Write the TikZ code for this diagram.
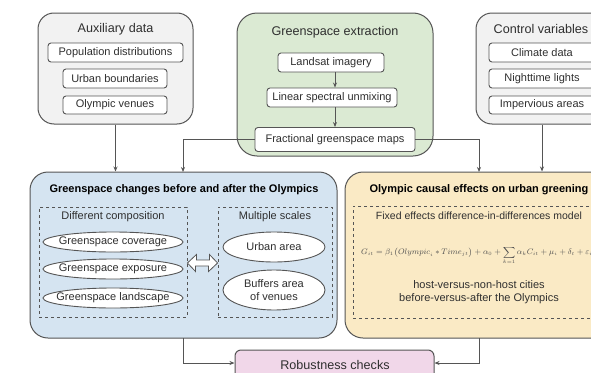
\documentclass[tikz,border=0pt]{standalone}
\usepackage{fontspec}
\setmainfont{Liberation Sans}
\usepackage{amsmath}
\usetikzlibrary{shapes.geometric,arrows.meta}
\definecolor{bordc}{HTML}{555555}
\definecolor{txtc}{HTML}{2F2F2F}
\definecolor{grayf}{HTML}{F2F2F2}
\definecolor{greenf}{HTML}{DBEAD3}
\definecolor{bluef}{HTML}{D5E4F1}
\definecolor{yellowf}{HTML}{FAEAC5}
\definecolor{pinkf}{HTML}{F1D7E9}
\tikzset{
  outer/.style={draw=bordc, line width=1pt, rounded corners=16pt, inner sep=0pt},
  inbox/.style={draw=bordc, line width=0.9pt, rounded corners=3pt, fill=white, inner sep=0pt, text=txtc, font=\fontsize{11}{13}\selectfont},
  ttl/.style={text=txtc, font=\fontsize{12.6}{14}\selectfont, inner sep=0pt},
  btitle/.style={text=black, font=\bfseries\fontsize{11}{13}\selectfont, inner sep=0pt},
  dbox/.style={draw=bordc, dashed, line width=0.9pt, inner sep=0pt},
  ell/.style={ellipse, draw=bordc, line width=0.9pt, fill=white, inner sep=0pt},
  elltxt/.style={text=txtc, font=\fontsize{11}{13}\selectfont, align=center, inner sep=0pt},
  plain/.style={text=txtc, font=\fontsize{11}{13}\selectfont, inner sep=0pt, align=center},
  conn/.style={draw=bordc, line width=0.9pt, -{Stealth[length=5pt,width=4pt]}},
  line/.style={draw=bordc, line width=0.9pt}
}
\begin{document}
\begin{tikzpicture}[x=1pt,y=-1pt]
\useasboundingbox (0,0) rectangle (591,372);
\clip (0,0) rectangle (591,372);
\fill[white] (0,0) rectangle (591,372);

% Auxiliary data
\node[outer, fill=grayf, minimum width=155pt, minimum height=111pt] (aux) at (115.5,68.5) {};
\node[ttl] (auxt) at (115.5,29) {Auxiliary data};
\node[inbox, minimum width=135pt, minimum height=19pt] (pop) at (115.5,52.5) {Population distributions};
\node[inbox, minimum width=104pt, minimum height=19pt] (urb) at (115,78.5) {Urban boundaries};
\node[inbox, minimum width=104pt, minimum height=18pt] (ven) at (115,105) {Olympic venues};

% Greenspace extraction
\node[outer, fill=greenf, rounded corners=20pt, minimum width=196pt, minimum height=143pt] (grn) at (335,84.5) {};
\node[ttl] (grnt) at (335,32) {Greenspace extraction};
\node[inbox, minimum width=106pt, minimum height=19pt] (land) at (331,62.5) {Landsat imagery};
\node[inbox, minimum width=130pt, minimum height=19pt] (lin) at (332,97.5) {Linear spectral unmixing};
\node[inbox, minimum width=160pt, minimum height=24pt] (frac) at (335,139.5) {Fractional greenspace maps};
\draw[conn] (land.south -| 335,0) -- (lin.north -| 335,0);
\draw[conn] (lin.south -| 335,0) -- (frac.north -| 335,0);

% Control variables
\node[outer, fill=grayf, minimum width=132pt, minimum height=111pt] (ctl) at (542,68.5) {};
\node[ttl] (ctlt) at (541,29) {Control variables};
\node[inbox, minimum width=106pt, minimum height=19pt] (clim) at (542,52.5) {Climate data};
\node[inbox, minimum width=106pt, minimum height=19pt] (night) at (542,78.5) {Nighttime lights};
\node[inbox, minimum width=106pt, minimum height=18pt] (imp) at (542,105) {Impervious areas};

% Blue box
\node[outer, fill=bluef, rounded corners=18pt, minimum width=307pt, minimum height=166pt] (blue) at (183.5,255) {};
\node[btitle] (bluet) at (184,190) {Greenspace changes before and after the Olympics};
\node[dbox, minimum width=148pt, minimum height=110pt] (comp) at (113,262) {};
\node[plain] (compt) at (113,217) {Different composition};
\node[ell, minimum width=140pt, minimum height=20pt] (cov) at (113,242) {};
\node[elltxt] (covt) at (cov.center) {Greenspace coverage};
\node[ell, minimum width=140pt, minimum height=20pt] (exp) at (113,269) {};
\node[elltxt] (expt) at (exp.center) {Greenspace exposure};
\node[ell, minimum width=140pt, minimum height=20pt] (lsc) at (113,298) {};
\node[elltxt] (lsct) at (lsc.center) {Greenspace landscape};
\node[dbox, minimum width=114pt, minimum height=110pt] (scal) at (275,262) {};
\node[plain] (scalt) at (275,217) {Multiple scales};
\node[ell, minimum width=102pt, minimum height=30pt] (uarea) at (274,247) {};
\node[elltxt] (uareat) at (uarea.center) {Urban area};
\node[ell, minimum width=102pt, minimum height=40pt] (buf) at (274,290) {};
\node[elltxt] (buft) at (buf.center) {Buffers area\\of venues};
% hollow double arrow between the two dashed boxes
\draw[draw=bordc, line width=0.8pt, fill=white, line join=miter]
  (comp.east |- 0,263) -- ++(9,-8.5) -- ++(0,5.5) -- ++(13,0) -- ++(0,-5.5) -- (scal.west |- 0,263)
  -- ++(-9,8.5) -- ++(0,-5.5) -- ++(-13,0) -- ++(0,5.5) -- cycle;

% Yellow box
\node[outer, fill=yellowf, rounded corners=18pt, minimum width=268pt, minimum height=166pt] (yel) at (479,255) {};
\node[btitle] (yelt) at (479,190) {Olympic causal effects on urban greening};
\node[dbox, minimum width=254pt, minimum height=112pt] (fe) at (480,262) {};
\node[plain, font=\fontsize{10.5}{12}\selectfont] (fet) at (479,216) {Fixed effects difference-in-differences model};
\node[anchor=base west, inner sep=0pt, text=txtc!85, font=\fontsize{7.8}{9}\selectfont] (eq) at (361,254.5)
  {$G_{it}=\beta_1\big(\mathnormal{Olympic}_i\ast\mathnormal{Time}_{jt}\big)+\alpha_0+\displaystyle\sum_{k=1}\alpha_k C_{it}+\mu_i+\delta_t+\varepsilon_{it}$};
\node[plain] (host) at (479,285) {host-versus-non-host cities};
\node[plain] (bva) at (479,299) {before-versus-after the Olympics};

% Robustness
\node[outer, fill=pinkf, rounded corners=6pt, minimum width=199pt, minimum height=40pt] (rob) at (334.5,370) {};
\node[plain, font=\fontsize{12.6}{14}\selectfont] (robt) at (335,365) {Robustness checks};

% Connectors
\draw[conn] (aux.south) -- (aux.south |- blue.north);
\draw[conn] (frac.west) -| (183,172);
\draw[conn] (frac.east) -| (479,172);
\draw[conn] (ctl.south) -- (ctl.south |- yel.north);
\draw[conn] (183,338) |- (rob.west |- 0,363);
\draw[conn] (479,338) |- (rob.east |- 0,363);
\end{tikzpicture}
\end{document}
